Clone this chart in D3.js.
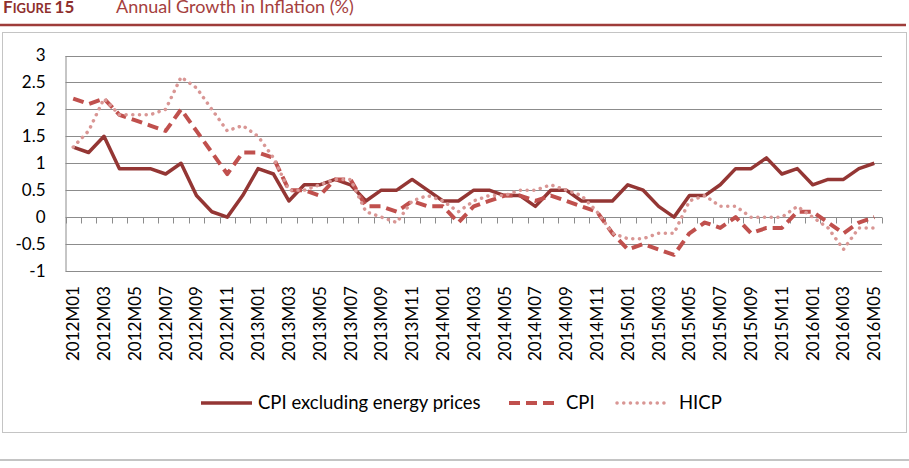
<!DOCTYPE html>
<meta charset="utf-8">
<script src="https://d3js.org/d3.v7.min.js"></script>
<style>
body { margin: 0; background-color: white; }
svg text { font-family: Lato, "Open Sans", sans-serif; }
</style>
<div id="chart"></div>
<script>
// months along the x axis
var months = [
  "2012M01","2012M02","2012M03","2012M04","2012M05","2012M06","2012M07","2012M08","2012M09","2012M10","2012M11","2012M12",
  "2013M01","2013M02","2013M03","2013M04","2013M05","2013M06","2013M07","2013M08","2013M09","2013M10","2013M11","2013M12",
  "2014M01","2014M02","2014M03","2014M04","2014M05","2014M06","2014M07","2014M08","2014M09","2014M10","2014M11","2014M12",
  "2015M01","2015M02","2015M03","2015M04","2015M05","2015M06","2015M07","2015M08","2015M09","2015M10","2015M11","2015M12",
  "2016M01","2016M02","2016M03","2016M04","2016M05"
];

var cpiExEnergy = [
  1.3, 1.2, 1.5, 0.9, 0.9, 0.9, 0.8, 1.0, 0.4, 0.1, 0.0, 0.4,
  0.9, 0.8, 0.3, 0.6, 0.6, 0.7, 0.6, 0.3, 0.5, 0.5, 0.7, 0.5,
  0.3, 0.3, 0.5, 0.5, 0.4, 0.4, 0.2, 0.5, 0.5, 0.3, 0.3, 0.3,
  0.6, 0.5, 0.2, 0.0, 0.4, 0.4, 0.6, 0.9, 0.9, 1.1, 0.8, 0.9,
  0.6, 0.7, 0.7, 0.9, 1.0
];

var cpi = [
  2.2, 2.1, 2.2, 1.9, 1.8, 1.7, 1.6, 2.0, 1.6, 1.2, 0.8, 1.2,
  1.2, 1.1, 0.5, 0.5, 0.4, 0.7, 0.7, 0.2, 0.2, 0.1, 0.3, 0.2,
  0.2, -0.1, 0.2, 0.3, 0.4, 0.4, 0.3, 0.4, 0.3, 0.2, 0.1, -0.3,
  -0.6, -0.5, -0.6, -0.7, -0.3, -0.1, -0.2, 0.0, -0.3, -0.2, -0.2, 0.1,
  0.1, -0.1, -0.3, -0.1, 0.0
];

var hicp = [
  1.3, 1.6, 2.2, 1.9, 1.9, 1.9, 2.0, 2.6, 2.4, 2.0, 1.6, 1.7,
  1.5, 1.1, 0.5, 0.5, 0.6, 0.7, 0.7, 0.1, 0.0, -0.1, 0.3, 0.4,
  0.3, 0.1, 0.3, 0.4, 0.4, 0.5, 0.5, 0.6, 0.5, 0.4, 0.1, -0.3,
  -0.4, -0.4, -0.3, -0.3, 0.3, 0.4, 0.2, 0.2, 0.0, 0.0, 0.0, 0.2,
  0.0, -0.2, -0.6, -0.2, -0.2
];

var yTicks = [-1, -0.5, 0, 0.5, 1, 1.5, 2, 2.5, 3];

var seriesNames = ["CPI excluding energy prices", "CPI", "HICP"];

var width = 909, height = 468;

var svg = d3.select("#chart").append("svg")
  .attr("width", width)
  .attr("height", height);

// header (top edge is cut off, as in the source page)
var title = svg.append("text").attr("x", 3).attr("y", 13).attr("fill", "#8e2f2d");
title.append("tspan").attr("font-weight", "bold").attr("font-size", 17).text("F");
title.append("tspan").attr("font-weight", "bold").attr("font-size", 13).text("IGURE ");
title.append("tspan").attr("font-weight", "bold").attr("font-size", 17).text("15");
svg.append("text").attr("x", 116).attr("y", 13)
  .attr("font-size", 18).attr("fill", "#a5403d")
  .text("Annual Growth in Inflation (%)");

svg.append("line").attr("x1", 0).attr("x2", 906).attr("y1", 25).attr("y2", 25)
  .attr("stroke", "#9e3c3a").attr("stroke-width", 2.5);

// chart frame
svg.append("rect").attr("x", 2.5).attr("y", 32.5).attr("width", 904).attr("height", 400)
  .attr("fill", "white").attr("stroke", "#c4c4c4").attr("stroke-width", 1);

svg.append("line").attr("x1", 0).attr("x2", 909).attr("y1", 460).attr("y2", 460)
  .attr("stroke", "#c4c4c4").attr("stroke-width", 2);

// scales
var x = d3.scaleBand().domain(months).range([65.5, 882]).padding(0);
var y = d3.scaleLinear().domain([-1, 3]).range([271, 55.5]);
var cx = function(m) { return x(m) + x.bandwidth() / 2; };

// gridlines
svg.append("g")
  .selectAll("line")
  .data(yTicks)
  .enter().append("line")
    .attr("x1", 65.5).attr("x2", 882)
    .attr("y1", function(d) { return Math.round(y(d)) + 0.5; })
    .attr("y2", function(d) { return Math.round(y(d)) + 0.5; })
    .attr("stroke", "#8c8c8c").attr("stroke-width", 1);

// y axis
var yAxis = svg.append("g")
  .attr("transform", "translate(65.5,0)")
  .call(d3.axisLeft(y).tickValues(yTicks).tickSize(0).tickPadding(20).tickFormat(function(d) { return String(d); }));
yAxis.select(".domain").attr("stroke", "#8c8c8c");
yAxis.selectAll("text").attr("font-size", 17).attr("fill", "#000").attr("font-family", "Lato");

// x axis tick marks at band edges, on the zero line
var edges = months.map(function(m) { return x(m); }).concat([x.range()[1]]);
svg.append("g")
  .selectAll("line")
  .data(edges)
  .enter().append("line")
    .attr("x1", function(d) { return Math.round(d) + 0.5; })
    .attr("x2", function(d) { return Math.round(d) + 0.5; })
    .attr("y1", Math.round(y(0)) + 0.5)
    .attr("y2", Math.round(y(0)) + 6.5)
    .attr("stroke", "#8c8c8c");

// x labels, every second month
svg.append("g")
  .selectAll("text")
  .data(months.filter(function(d, i) { return i % 2 === 0; }))
  .enter().append("text")
    .attr("transform", function(d) { return "translate(" + (cx(d) + 6) + ",361) rotate(-90)"; })
    .attr("font-size", 17)
    .attr("fill", "#000")
    .text(function(d) { return d; });

// lines
var line = d3.line()
  .x(function(d, i) { return cx(months[i]); })
  .y(function(d) { return y(d); });

var styles = [
  { data: cpiExEnergy, color: "#943634", width: 3.5, dash: null, cap: "butt" },
  { data: cpi, color: "#c0504d", width: 4, dash: "11,6", cap: "butt" },
  { data: hicp, color: "#d99694", width: 3.5, dash: "0.1,6.6", cap: "round" }
];

styles.forEach(function(s) {
  svg.append("path")
    .datum(s.data)
    .attr("d", line)
    .attr("fill", "none")
    .attr("stroke", s.color)
    .attr("stroke-width", s.width)
    .attr("stroke-linejoin", "round")
    .attr("stroke-linecap", s.cap)
    .attr("stroke-dasharray", s.dash);
});

// legend
var legendX = [201, 509, 617];
var legendTextX = [258, 566, 679];
var legend = svg.append("g");
styles.forEach(function(s, i) {
  legend.append("line")
    .attr("x1", legendX[i]).attr("x2", legendX[i] + (i === 0 ? 51 : 47))
    .attr("y1", 403).attr("y2", 403)
    .attr("stroke", s.color).attr("stroke-width", s.width)
    .attr("stroke-linecap", s.cap)
    .attr("stroke-dasharray", s.dash);
  legend.append("text")
    .attr("x", legendTextX[i])
    .attr("y", 409)
    .attr("font-size", 18.5)
    .attr("fill", "#000")
    .text(seriesNames[i]);
});
</script>
